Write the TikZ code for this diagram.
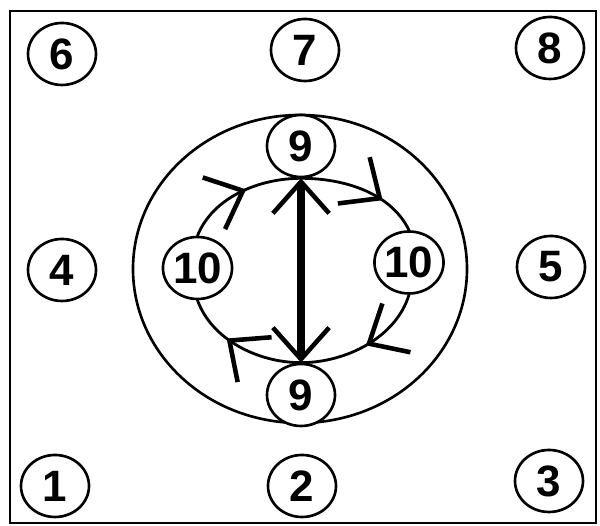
\documentclass[tikz,border=0pt]{standalone}
\usepackage{fontspec}
\setmainfont{Liberation Sans}
\usetikzlibrary{arrows.meta,decorations.markings,shapes.geometric}

\begin{document}
\begin{tikzpicture}[line cap=round,
	spot/.style={ellipse,draw,line width=1.5pt,fill=white,
		minimum width=1.36cm,minimum height=1.24cm,inner sep=0pt,
		font=\fontsize{25}{25}\selectfont\bfseries},
	barb/.tip={Straight Barb[length=18pt,width=32pt,line width'=2.6pt]},
	flow/.style={line width=1.6pt,postaction={decorate},
		decoration={markings,mark=at position #1 with {\arrow{barb}}}}]
	
	% ===== frame =====
	\useasboundingbox (0,0) rectangle (12,10.52);
	\draw[line width=1.6pt] (0.2,0.06) rectangle (11.92,10.3);
	
	% ---- outer ring ----
	\draw[line width=1.5pt] (6.0,5.14) ellipse [x radius=3.34,y radius=3.08];
	
	% ---- outer spots 1 ... 8 ----
	\node[spot] (n6) at (1.24,9.44) {6};
	\node[spot] (n7) at (6.10,9.52) {7};
	\node[spot] (n8) at (11.0,9.56) {8};
	\node[spot] (n4) at (1.24,5.12) {4};
	\node[spot] (n5) at (11.02,5.18) {5};
	\node[spot] (n1) at (1.10,0.80) {1};
	\node[spot] (n2) at (6.04,0.80) {2};
	\node[spot] (n3) at (10.98,0.90) {3};
	
	% ---- inner spots 9, 10 ----
	\node[spot] (t9) at (6.02,7.60) {9};
	\node[spot] (b9) at (6.02,2.62) {9};
	\node[spot] (l10) at (3.95,5.16) {10};
	\node[spot] (r10) at (8.18,5.27) {10};
	
	% ---- loop, clockwise ----
	\draw[flow=0.55] (l10.north) to[out=68,in=180,looseness=0.9] (t9.south);
	\draw[flow=0.68] (t9.south) to[out=0,in=116,looseness=0.9] (r10.north);
	\draw[flow=0.5] (r10.south) to[out=-107,in=0,looseness=0.9] (b9.north);
	\draw[flow=0.62] (b9.north) to[out=180,in=-70,looseness=0.9] (l10.south);
	
	% ---- axis 9 -- 9 ----
	\draw[line width=4pt,line cap=butt,{barb}-{barb}] (t9) -- (b9);
	
\end{tikzpicture}
\end{document}
